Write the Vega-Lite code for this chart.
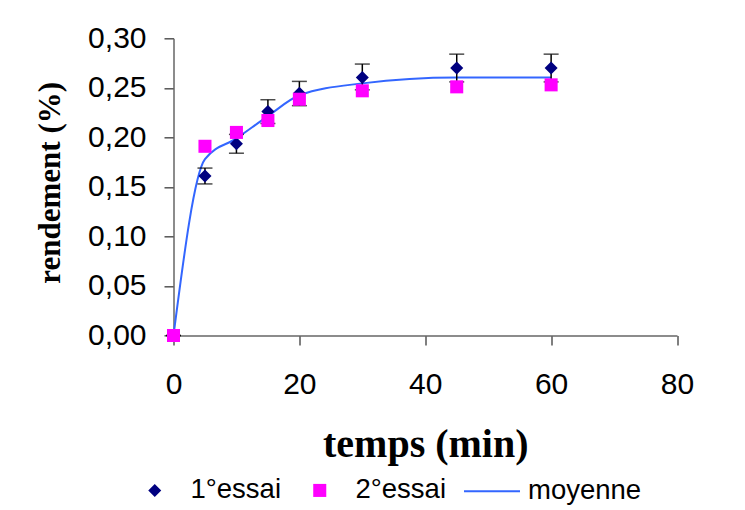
{
  "$schema": "https://vega.github.io/schema/vega-lite/v6.json",
  "width": 503.5,
  "height": 297.2,
  "autosize": "none",
  "padding": {"left": 173.5, "top": 38.3, "right": 68, "bottom": 174.5},
  "background": "white",
  "config": {
    "locale": {"number": {"decimal": ",", "thousands": " ", "grouping": [3], "currency": ["", " €"]}},
    "view": {"stroke": null},
    "axis": {
      "grid": false,
      "labelFont": "Liberation Sans",
      "labelFontSize": 30,
      "labelColor": "black",
      "labelFlush": false,
      "labelOverlap": false,
      "domainColor": "#666666",
      "domainWidth": 1.5,
      "tickColor": "#555555",
      "tickWidth": 1.5,
      "tickSize": 9.5,
      "titleFont": "Liberation Serif",
      "titleFontWeight": "bold",
      "titleColor": "black"
    },
    "legend": {
      "labelFont": "Liberation Sans",
      "labelFontSize": 27.5,
      "labelColor": "black",
      "padding": 0
    }
  },
  "datasets": {
    "pts": [
      {"t": 0, "serie": "1°essai", "v": 0, "lo": 0, "hi": 0},
      {"t": 5, "serie": "1°essai", "v": 0.161, "lo": 0.153, "hi": 0.169},
      {"t": 10, "serie": "1°essai", "v": 0.1935, "lo": 0.184, "hi": 0.203},
      {"t": 15, "serie": "1°essai", "v": 0.226, "lo": 0.214, "hi": 0.238},
      {"t": 20, "serie": "1°essai", "v": 0.2445, "lo": 0.232, "hi": 0.2565},
      {"t": 30, "serie": "1°essai", "v": 0.2605, "lo": 0.248, "hi": 0.274},
      {"t": 45, "serie": "1°essai", "v": 0.270, "lo": 0.256, "hi": 0.284},
      {"t": 60, "serie": "1°essai", "v": 0.270, "lo": 0.256, "hi": 0.284},
      {"t": 0, "serie": "2°essai", "v": 0},
      {"t": 5, "serie": "2°essai", "v": 0.191},
      {"t": 10, "serie": "2°essai", "v": 0.205},
      {"t": 15, "serie": "2°essai", "v": 0.217},
      {"t": 20, "serie": "2°essai", "v": 0.2385},
      {"t": 30, "serie": "2°essai", "v": 0.247},
      {"t": 45, "serie": "2°essai", "v": 0.251},
      {"t": 60, "serie": "2°essai", "v": 0.253}
    ],
    "avg": [
      {"t": 0, "serie": "moyenne", "v": 0},
      {"t": 5, "serie": "moyenne", "v": 0.178},
      {"t": 10, "serie": "moyenne", "v": 0.199},
      {"t": 15, "serie": "moyenne", "v": 0.2215},
      {"t": 20, "serie": "moyenne", "v": 0.2425},
      {"t": 30, "serie": "moyenne", "v": 0.2545},
      {"t": 45, "serie": "moyenne", "v": 0.2605},
      {"t": 60, "serie": "moyenne", "v": 0.2605}
    ]
  },
  "encoding": {
    "x": {
      "field": "t", "type": "quantitative",
      "scale": {"domain": [0, 80], "nice": false},
      "axis": {
        "values": [0, 20, 40, 60, 80],
        "format": "d",
        "labelBaseline": "alphabetic",
        "labelPadding": 48,
        "title": "temps (min)",
        "titleFontSize": 40,
        "titleBaseline": "alphabetic",
        "titleY": 121
      }
    },
    "y": {
      "field": "v", "type": "quantitative",
      "scale": {"domain": [0, 0.3], "nice": false},
      "axis": {
        "values": [0, 0.05, 0.1, 0.15, 0.2, 0.25, 0.3],
        "format": ".2f",
        "labelPadding": 18,
        "title": "rendement (%)",
        "titleFontSize": 31,
        "titleBaseline": "alphabetic",
        "titleAngle": -90,
        "titleX": -114,
        "titleY": 144
      }
    }
  },
  "layer": [
    {
      "data": {"name": "avg"},
      "mark": {"type": "line", "interpolate": "monotone", "strokeWidth": 2},
      "encoding": {
        "color": {
          "field": "serie", "type": "nominal",
          "scale": {"domain": ["moyenne"], "range": ["#3366ff"]},
          "legend": {
            "title": null,
            "orient": "none",
            "legendX": 289.5,
            "legendY": 424,
            "symbolType": "stroke",
            "symbolSize": 3136,
            "symbolStrokeWidth": 2,
            "labelOffset": 7
          }
        }
      }
    },
    {
      "data": {"name": "pts"},
      "transform": [{"filter": "datum.serie === '1°essai'"}],
      "mark": {"type": "rule", "color": "black", "strokeWidth": 1.5},
      "encoding": {"y": {"field": "lo", "type": "quantitative"}, "y2": {"field": "hi"}}
    },
    {
      "data": {"name": "pts"},
      "transform": [{"filter": "datum.serie === '1°essai'"}],
      "mark": {"type": "tick", "orient": "horizontal", "color": "black", "size": 15, "thickness": 1.5},
      "encoding": {"y": {"field": "lo", "type": "quantitative"}}
    },
    {
      "data": {"name": "pts"},
      "transform": [{"filter": "datum.serie === '1°essai'"}],
      "mark": {"type": "tick", "orient": "horizontal", "color": "black", "size": 15, "thickness": 1.5},
      "encoding": {"y": {"field": "hi", "type": "quantitative"}}
    },
    {
      "data": {"name": "pts"},
      "mark": {"type": "point", "filled": true, "opacity": 1, "size": 170},
      "encoding": {
        "color": {
          "field": "serie", "type": "nominal",
          "scale": {"domain": ["1°essai", "2°essai"], "range": ["#000080", "#ff00ff"]},
          "legend": {
            "title": null,
            "orient": "none",
            "direction": "horizontal",
            "legendX": -32.5,
            "legendY": 438,
            "symbolSize": 170,
            "labelOffset": 22,
            "columnPadding": 25
          }
        },
        "shape": {
          "field": "serie", "type": "nominal",
          "scale": {"domain": ["1°essai", "2°essai"], "range": ["diamond", "square"]},
          "legend": {
            "title": null,
            "orient": "none",
            "direction": "horizontal",
            "legendX": -32.5,
            "legendY": 438,
            "symbolSize": 170,
            "labelOffset": 22,
            "columnPadding": 25
          }
        }
      }
    }
  ],
  "resolve": {
    "scale": {"color": "independent", "shape": "independent"},
    "legend": {"color": "independent", "shape": "independent"}
  }
}
